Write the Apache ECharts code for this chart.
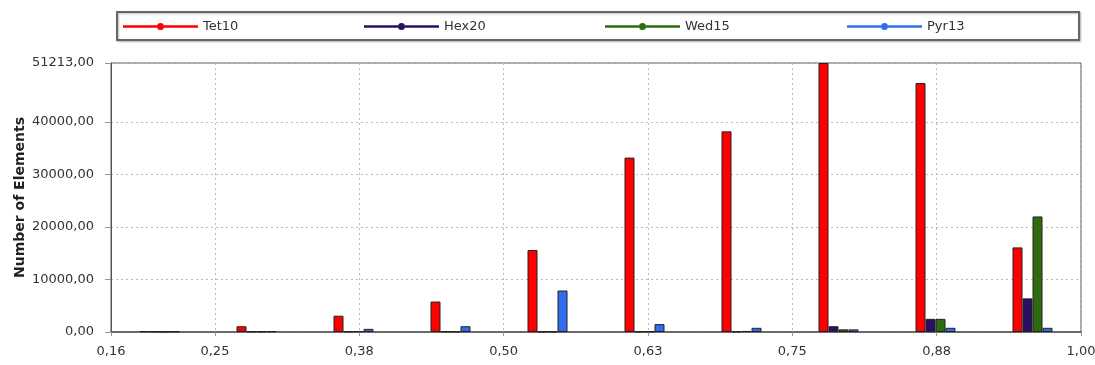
<!DOCTYPE html>
<html>
<head>
<meta charset="utf-8">
<script src="https://cdn.jsdelivr.net/npm/echarts@6/dist/echarts.min.js"></script>
<style>
  html, body { margin: 0; padding: 0; background: #fff; }
  #chart { width: 1095px; height: 365px; }
</style>
</head>
<body>
<div id="chart"></div>
<script>
// bin centres on the quality axis (10 bins between 0.16 and 1.00)
const binCenters = [0.202, 0.286, 0.370, 0.454, 0.538, 0.622, 0.706, 0.790, 0.874, 0.958];

// number of elements per bin
const tet10 = [150, 1100, 3100, 5800, 15600, 33200, 38200, 51213, 47400, 16100];
const hex20 = [100, 100, 100, 100, 80, 100, 100, 1100, 2500, 6400];
const wed15 = [60, 100, 150, 100, 80, 100, 200, 500, 2500, 22000];
const pyr13 = [100, 150, 600, 1100, 7900, 1500, 800, 500, 800, 800];

const seriesNames = ['Tet10', 'Hex20', 'Wed15', 'Pyr13'];
const seriesColors = ['#ff0000', '#2a0f62', '#2e6a10', '#2f6cf0'];

// tick labels
const xTicks = [0.16, 0.25, 0.375, 0.5, 0.625, 0.75, 0.875, 1.0];
const yTicks = [0, 10000, 20000, 30000, 40000, 51213];

const fmt = v => v.toFixed(2).replace('.', ',');
const font = 'DejaVu Sans';

// legend icon: line with a dot in the middle
const legendIcon = 'path://M0,4H34V6.5H0Z M41,4H75V6.5H41Z M34,5.25A3.5,3.5 0 1 1 41,5.25A3.5,3.5 0 1 1 34,5.25Z';
const legendLeft = [123, 364, 605, 847];

const allData = [tet10, hex20, wed15, pyr13];

const chart = echarts.init(document.getElementById('chart'), null, { renderer: 'canvas' });

chart.setOption({
  animation: false,
  backgroundColor: '#fff',
  graphic: [{
    type: 'rect',
    shape: { x: 117, y: 12, width: 962, height: 28 },
    style: { fill: '#fff', stroke: '#666', lineWidth: 2, shadowColor: 'rgba(0,0,0,0.25)', shadowBlur: 2, shadowOffsetX: 1, shadowOffsetY: 1 },
    z: -1
  }],
  legend: seriesNames.map((name, i) => ({
    data: [name],
    left: legendLeft[i],
    top: 20,
    padding: 0,
    itemWidth: 75,
    itemHeight: 11,
    itemGap: 6,
    icon: legendIcon,
    itemStyle: { borderWidth: 0 },
    textStyle: { fontFamily: font, fontSize: 13, color: '#333' }
  })),
  grid: {
    left: 111, right: 14, top: 63, bottom: 33,
    outerBoundsMode: 'none',
    containLabel: false,
    show: true, borderColor: '#555', borderWidth: 1
  },
  xAxis: {
    type: 'value',
    min: 0.16,
    max: 1.0,
    axisLine: { show: true, lineStyle: { color: '#555', width: 1.5 } },
    axisTick: { show: true, customValues: xTicks, length: 4, lineStyle: { color: '#999' } },
    axisLabel: {
      customValues: xTicks,
      formatter: fmt,
      fontFamily: font, fontSize: 13, color: '#333', margin: 13
    },
    splitLine: { show: true, lineStyle: { color: '#bbb', type: [2, 3], width: 1 } }
  },
  yAxis: {
    type: 'value',
    min: 0,
    max: 51213,
    name: 'Number of Elements',
    nameLocation: 'middle',
    nameGap: 84,
    nameMoveOverlap: false,
    nameTextStyle: { fontFamily: font, fontSize: 14, fontWeight: 'bold', color: '#222' },
    axisLine: { show: true, lineStyle: { color: '#555' } },
    axisTick: { show: true, customValues: yTicks, length: 6, lineStyle: { color: '#999' } },
    axisLabel: {
      customValues: yTicks,
      formatter: fmt,
      fontFamily: font, fontSize: 13, color: '#333', margin: 17
    },
    splitLine: { show: true, lineStyle: { color: '#bbb', type: [2, 3], width: 1 } }
  },
  series: seriesNames.map((name, i) => ({
    name: name,
    type: 'bar',
    barWidth: 10,
    barGap: '0%',
    data: binCenters.map((x, j) => [x, allData[i][j]]),
    itemStyle: { color: seriesColors[i], borderColor: '#222', borderWidth: 1 }
  }))
});
</script>
</body>
</html>
